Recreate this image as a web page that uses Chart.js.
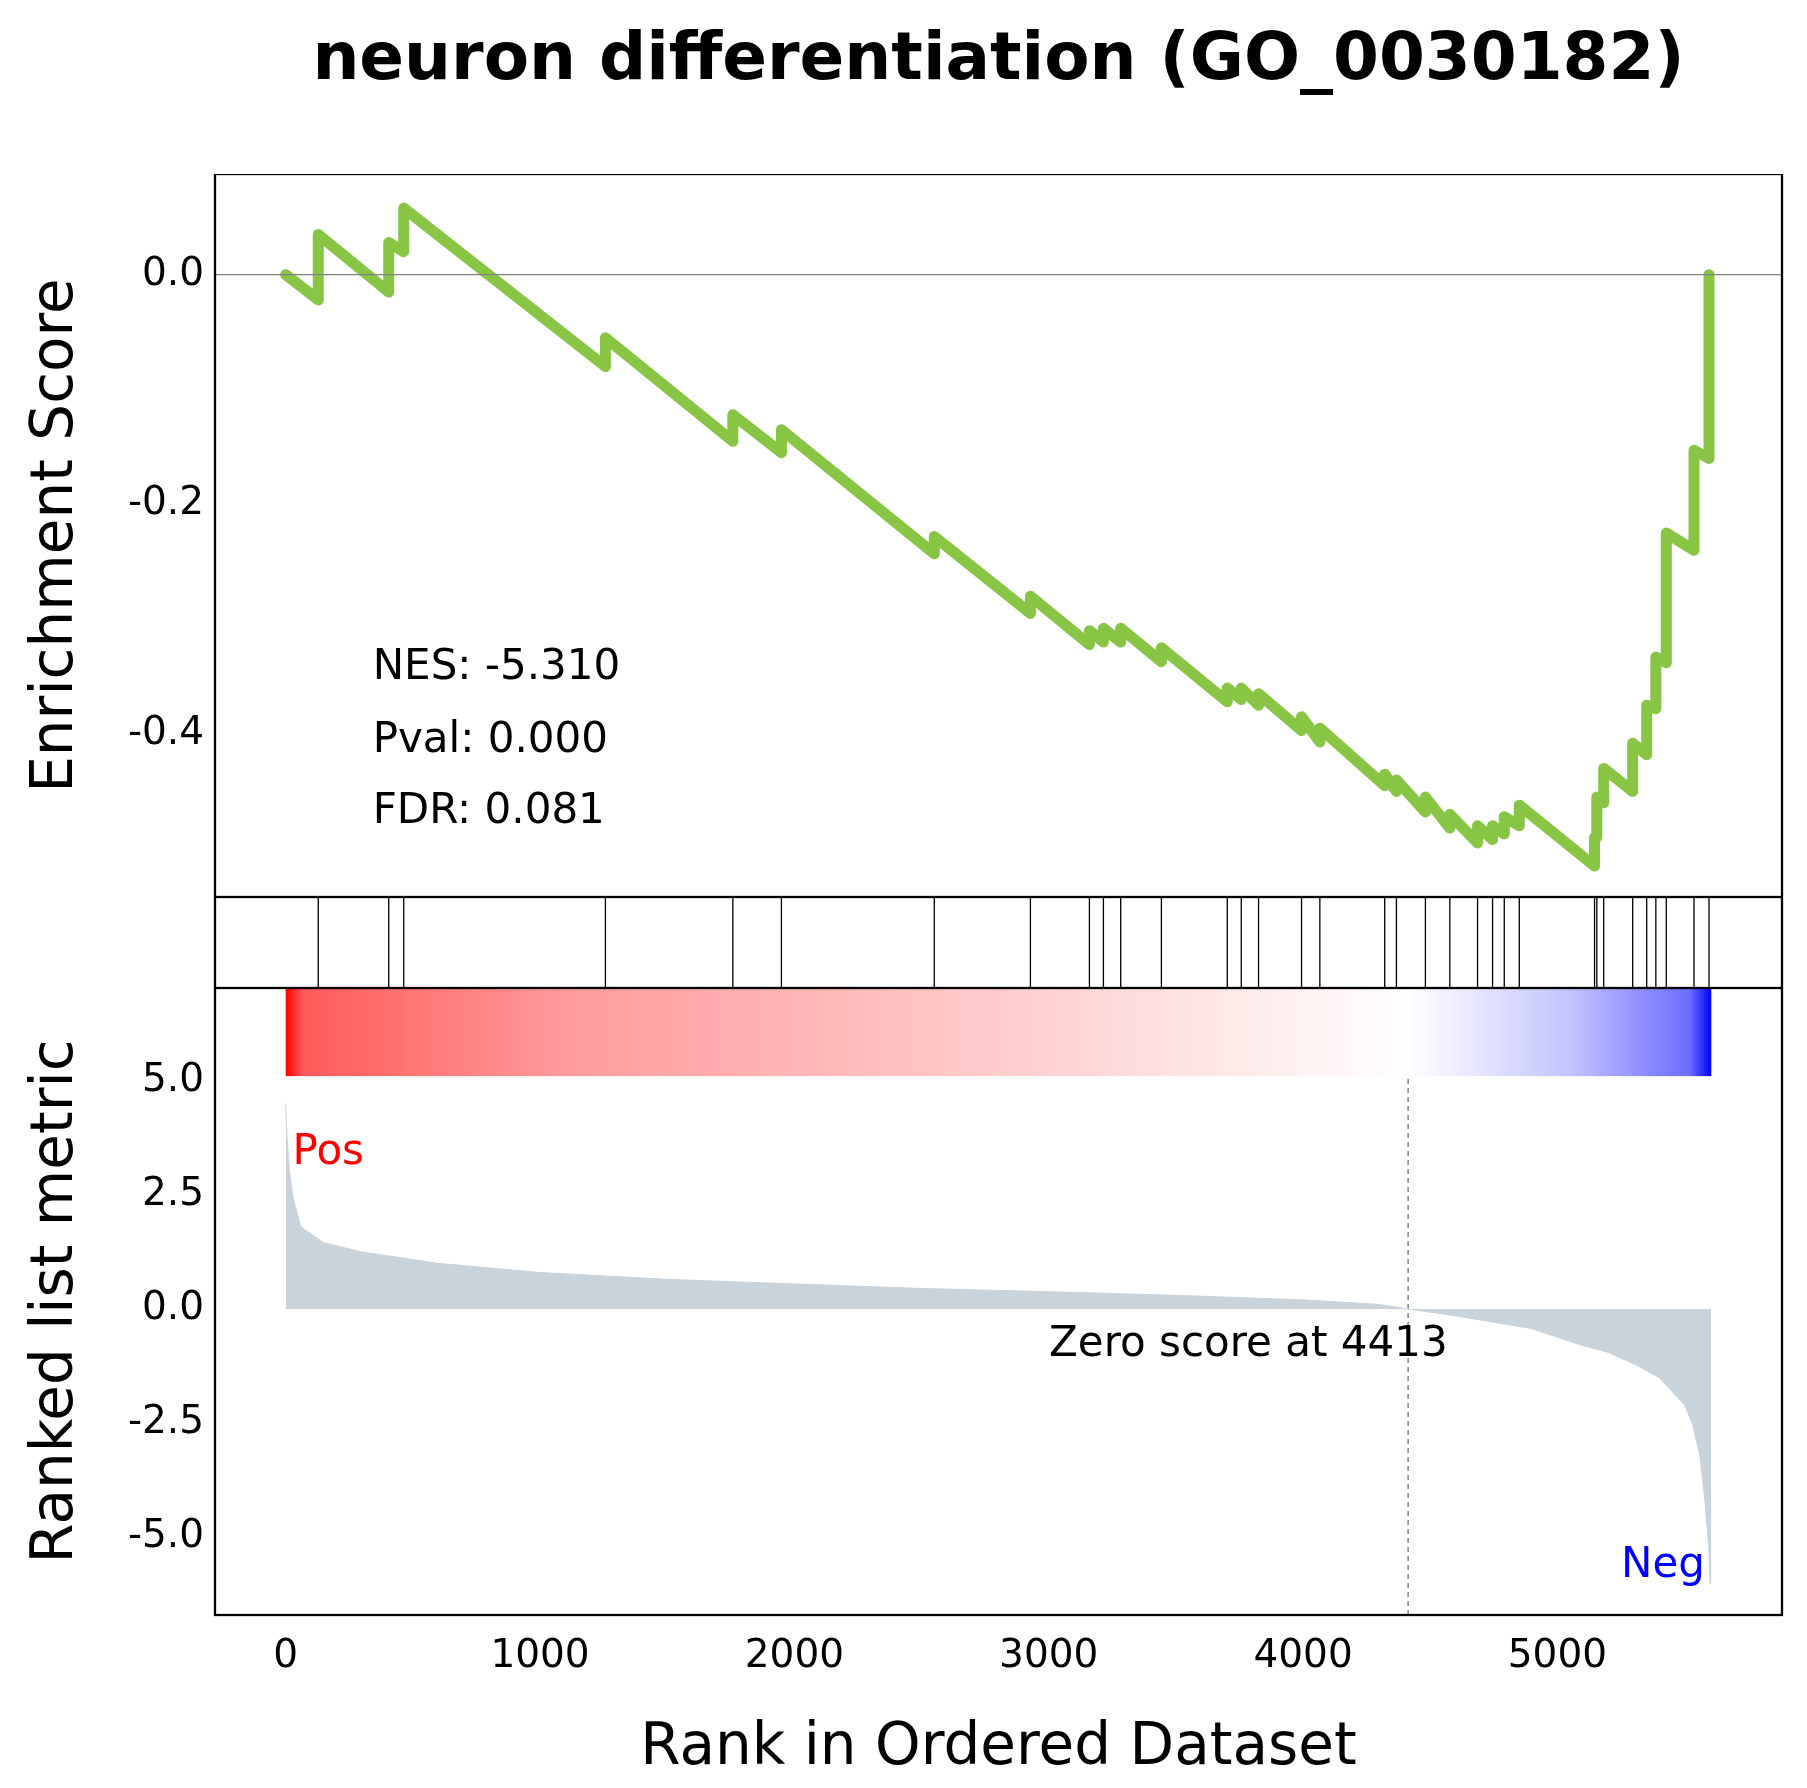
<!DOCTYPE html>
<html><head><meta charset="utf-8">
<script src="https://cdn.jsdelivr.net/npm/chart.js@4.4.0/dist/chart.umd.min.js"></script>
<style>
body{margin:0;width:1807px;height:1788px;background:#fff;position:relative;overflow:hidden;font-family:"DejaVu Sans",sans-serif}
#title{position:absolute;top:18px;left:215px;width:1567px;text-align:center;font-weight:bold;font-size:66px}
canvas{position:absolute;left:0}
</style></head><body>
<div id="title">neuron differentiation (GO_0030182)</div>
<div style="position:absolute;top:174px;left:0;width:1807px;height:723px"><canvas id="es"></canvas></div>
<div style="position:absolute;top:897px;left:0;width:1807px;height:91px"><canvas id="hits"></canvas></div>
<div style="position:absolute;top:988px;left:0;width:1807px;height:800px"><canvas id="rank"></canvas></div>
<script>
const N = 5605, ZERO = 4413;
const X_MIN = -278, X_MAX = 5883;

// hit positions (rank)
const hitRanks = [128,405,464,1257,1758,1949,2550,2928,3160,3215,3283,3443,3702,3757,3825,3994,4066,
  4321,4367,4481,4577,4686,4745,4791,4850,5146,5155,5182,5296,5351,5387,5428,5537,5596];

// running enrichment score (rank, score)
const esRank = [0,128,128,405,405,464,464,1257,1257,1758,1758,1949,1949,2550,2550,2928,2928,3160,3160,3215,3215,
  3283,3283,3443,3443,3702,3702,3757,3757,3825,3825,3994,3994,4066,4066,4321,4321,4367,4367,4481,4481,
  4577,4577,4686,4686,4745,4745,4791,4791,4850,4850,5146,5146,5155,5155,5182,5182,5296,5296,5351,5351,
  5387,5387,5428,5428,5537,5537,5596,5596];
const esScore = [0,-0.022,0.035,-0.015,0.028,0.02,0.058,-0.08,-0.055,-0.145,-0.122,-0.155,-0.135,-0.243,-0.228,
  -0.295,-0.28,-0.322,-0.31,-0.32,-0.308,-0.32,-0.308,-0.337,-0.325,-0.372,-0.36,-0.37,-0.36,-0.375,-0.365,
  -0.397,-0.385,-0.407,-0.395,-0.445,-0.435,-0.45,-0.44,-0.468,-0.455,-0.482,-0.47,-0.495,-0.48,-0.492,-0.48,
  -0.487,-0.472,-0.48,-0.462,-0.515,-0.49,-0.49,-0.455,-0.46,-0.43,-0.45,-0.408,-0.418,-0.375,-0.378,-0.333,
  -0.338,-0.225,-0.24,-0.153,-0.16,0.0];

// ranked list metric (rank, value)
const metricRank = [0,5,15,30,60,150,300,600,1000,1500,2000,2500,3000,3500,4000,4300,4413,4600,4900,5100,5200,5300,5400,5450,5500,5530,5560,5580,5595,5600,5605];
const metricVal  = [4.5,3.8,3.0,2.4,1.8,1.45,1.25,1.0,0.8,0.65,0.55,0.45,0.38,0.3,0.2,0.1,0,-0.15,-0.43,-0.8,-0.95,-1.2,-1.5,-1.8,-2.1,-2.5,-3.2,-4.2,-5.2,-6.0,-6.0];

const stats = ['NES: -5.310', 'Pval: 0.000', 'FDR: 0.081'];

const FONT = 'DejaVu Sans';
const tickFont = { family: FONT, size: 39 };
const titleFont = { family: FONT, size: 58 };
const fixW = s => { s.width = 215; s.paddingTop = 0; s.paddingBottom = 0; };

const frame = {
  id: 'frame',
  afterDraw(c) {
    const a = c.chartArea, ctx = c.ctx;
    ctx.save(); ctx.strokeStyle = '#000'; ctx.lineWidth = 2.3;
    ctx.strokeRect(a.left, a.top, a.right - a.left, a.bottom - a.top);
    ctx.restore();
  }
};

const xHidden = { type: 'linear', min: X_MIN, max: X_MAX, display: false };
const yTitle = text => ({ display: true, text, color: '#000', font: titleFont, padding: { top: 22, bottom: 4 } });

// ── ES curve ─────────────────────────────────────────
new Chart(document.getElementById('es'), {
  type: 'line',
  data: { datasets: [
    { data: [{x: X_MIN, y: 0}, {x: X_MAX, y: 0}], borderColor: '#808080', borderWidth: 1.2, pointRadius: 0 },
    { data: esRank.map((r, i) => ({x: r, y: esScore[i]})), borderColor: '#88c544', borderWidth: 11,
      pointRadius: 0, borderJoinStyle: 'round', borderCapStyle: 'round' },
  ]},
  options: {
    responsive: true, maintainAspectRatio: false, animation: false,
    layout: { padding: { right: 25, top: 0, bottom: 0 } },
    plugins: { legend: { display: false }, tooltip: { enabled: false } },
    scales: {
      x: xHidden,
      y: { min: -0.542, max: 0.0877, afterFit: fixW, grid: { display: false, drawTicks: true },
        border: { color: '#000', width: 2 },
        afterBuildTicks: s => { s.ticks = [{value: 0}, {value: -0.2}, {value: -0.4}]; },
        ticks: { color: '#000', font: tickFont, callback: v => v.toFixed(1) },
        title: yTitle('Enrichment Score') },
    },
  },
  plugins: [frame, {
    id: 'stats',
    afterDraw(c) {
      const ctx = c.ctx, x = c.scales.x, y = c.scales.y;
      ctx.save(); ctx.font = '42px ' + FONT; ctx.fillStyle = '#000'; ctx.textBaseline = 'middle';
      [-0.343, -0.406, -0.468].forEach((v, i) => ctx.fillText(stats[i], x.getPixelForValue(342), y.getPixelForValue(v)));
      ctx.restore();
    }
  }],
});

// ── Hits ─────────────────────────────────────────────
const hitPts = [];
hitRanks.forEach(r => { hitPts.push({x: r, y: 0}, {x: r, y: 1}, {x: r, y: null}); });
new Chart(document.getElementById('hits'), {
  type: 'line',
  data: { datasets: [{ data: hitPts, borderColor: '#000', borderWidth: 1.3, pointRadius: 0, spanGaps: false }] },
  options: {
    responsive: true, maintainAspectRatio: false, animation: false,
    layout: { padding: { right: 25 } },
    plugins: { legend: { display: false }, tooltip: { enabled: false } },
    scales: {
      x: xHidden,
      y: { min: 0, max: 1, afterFit: fixW, ticks: { display: false }, grid: { display: false }, border: { display: false } },
    },
  },
  plugins: [frame],
});

// ── Ranked list metric ───────────────────────────────
new Chart(document.getElementById('rank'), {
  type: 'line',
  data: { datasets: [
    { data: metricRank.map((r, i) => ({x: r, y: metricVal[i]})), borderColor: '#c9d3dc', borderWidth: 1,
      backgroundColor: '#c9d3dc', fill: 'origin', pointRadius: 0 },
    { data: [{x: ZERO, y: -6.7}, {x: ZERO, y: 5.1}], borderColor: '#707070', borderWidth: 1.3,
      borderDash: [5, 4], pointRadius: 0 },
  ]},
  options: {
    responsive: true, maintainAspectRatio: false, animation: false,
    layout: { padding: { right: 25 } },
    plugins: { legend: { display: false }, tooltip: { enabled: false } },
    scales: {
      x: { type: 'linear', min: X_MIN, max: X_MAX,
        afterFit: s => { s.height = 173; s.paddingLeft = 0; s.paddingRight = 0; },
        afterBuildTicks: s => { s.ticks = [0, 1000, 2000, 3000, 4000, 5000].map(v => ({value: v})); },
        grid: { display: false, drawTicks: true, tickLength: 10 }, border: { color: '#000', width: 2 },
        ticks: { color: '#000', font: tickFont, padding: 8, maxRotation: 0, callback: v => String(v) },
        title: { display: true, text: 'Rank in Ordered Dataset', color: '#000', font: titleFont, padding: { top: 10 } } },
      y: { min: -6.7, max: 7.03, afterFit: fixW, grid: { display: false }, border: { color: '#000', width: 2 },
        afterBuildTicks: s => { s.ticks = [5, 2.5, 0, -2.5, -5].map(v => ({value: v})); },
        ticks: { color: '#000', font: tickFont, callback: v => v.toFixed(1) },
        title: yTitle('Ranked list metric') },
    },
  },
  plugins: [frame, {
    id: 'bar',
    afterDatasetsDraw(c) {
      const ctx = c.ctx, x = c.scales.x, y = c.scales.y;
      const x0 = x.getPixelForValue(0), x1 = x.getPixelForValue(N);
      const y0 = y.getPixelForValue(7.03), y1 = y.getPixelForValue(5.1);
      const g = ctx.createLinearGradient(x0, 0, x1, 0);
      g.addColorStop(0, '#ff0000'); g.addColorStop(0.012, '#ff5a5a'); g.addColorStop(0.2, '#ff9c9c');
      g.addColorStop(0.5, '#ffcccc'); g.addColorStop(ZERO / N, '#ffffff');
      g.addColorStop(0.9, '#c4c4ff'); g.addColorStop(0.985, '#6c6cff'); g.addColorStop(1, '#0000ff');
      ctx.save(); ctx.fillStyle = g; ctx.fillRect(x0, y0, x1 - x0, y1 - y0);
      ctx.font = '42px ' + FONT; ctx.textBaseline = 'middle';
      ctx.fillStyle = '#ff0000'; ctx.fillText('Pos', x.getPixelForValue(27), y.getPixelForValue(3.41));
      ctx.fillStyle = '#0000ff'; ctx.textAlign = 'right';
      ctx.fillText('Neg', x.getPixelForValue(5580), y.getPixelForValue(-5.63));
      ctx.fillStyle = '#000'; ctx.textAlign = 'center';
      ctx.fillText('Zero score at ' + ZERO, x.getPixelForValue(3785), y.getPixelForValue(-0.8));
      ctx.restore();
    }
  }],
});
</script>
</body></html>
